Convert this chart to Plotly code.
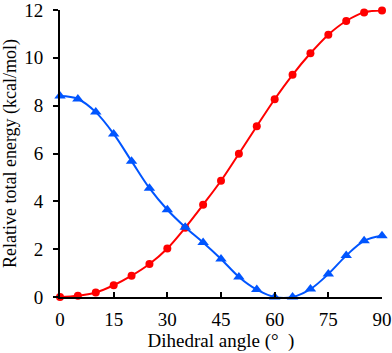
import plotly.graph_objects as go

angles = [0, 5, 10, 15, 20, 25, 30, 35, 40, 45, 50, 55, 60, 65, 70, 75, 80, 85, 90]

red_energy = [0.0, 0.05, 0.19, 0.49, 0.89, 1.38, 2.03, 2.9, 3.86, 4.86, 5.99,
              7.14, 8.27, 9.29, 10.19, 10.97, 11.54, 11.9, 11.98]

blue_energy = [8.4, 8.28, 7.73, 6.82, 5.68, 4.55, 3.65, 2.92, 2.28, 1.59, 0.84,
               0.31, 0.0, 0.0, 0.33, 0.96, 1.73, 2.35, 2.56]

x_ticks = [0, 15, 30, 45, 60, 75, 90]
y_ticks = [0, 2, 4, 6, 8, 10, 12]

RED = "rgb(255,0,0)"
BLUE = "rgb(0,85,255)"
FONT = "Liberation Serif, Times New Roman, serif"

fig = go.Figure()

fig.add_trace(go.Scatter(
    x=angles, y=red_energy,
    mode="lines+markers",
    line=dict(color=RED, width=2, shape="spline", smoothing=1),
    marker=dict(color=RED, size=8, symbol="circle"),
    cliponaxis=False,
))

fig.add_trace(go.Scatter(
    x=angles, y=blue_energy,
    mode="lines+markers",
    line=dict(color=BLUE, width=2, shape="spline", smoothing=1),
    marker=dict(color=BLUE, size=10, symbol="triangle-up"),
    cliponaxis=False,
))

fig.update_layout(
    width=392,
    height=353,
    margin=dict(l=60, r=10, t=10, b=56),
    plot_bgcolor="white",
    paper_bgcolor="white",
    showlegend=False,
    font=dict(family=FONT, size=19, color="black"),
)

fig.update_xaxes(
    range=[0, 90],
    tickvals=x_ticks,
    ticks="inside",
    ticklen=5,
    tickwidth=1.5,
    tickcolor="black",
    showline=True,
    linecolor="black",
    linewidth=2,
    showgrid=False,
    zeroline=False,
    automargin=False,
    ticklabeloverflow="allow",
    tickfont=dict(family=FONT, size=19),
    title=dict(text="Dihedral angle (°  )", font=dict(family=FONT, size=19), standoff=4),
    ticklabelstandoff=4,
)

fig.update_yaxes(
    range=[0, 12],
    tickvals=y_ticks,
    ticks="outside",
    ticklen=5,
    tickwidth=1.5,
    tickcolor="black",
    showline=True,
    linecolor="black",
    linewidth=2,
    showgrid=False,
    zeroline=False,
    automargin=False,
    ticklabeloverflow="allow",
    tickfont=dict(family=FONT, size=19),
    title=dict(text="Relative total energy (kcal/mol)", font=dict(family=FONT, size=18), standoff=4),
    ticklabelstandoff=6,
)

# drop the browser's default body margin so the figure fills the window
fig.write_html(
    "out.html",
    config={"displayModeBar": False},
    post_script="document.body.style.margin='0';",
)
